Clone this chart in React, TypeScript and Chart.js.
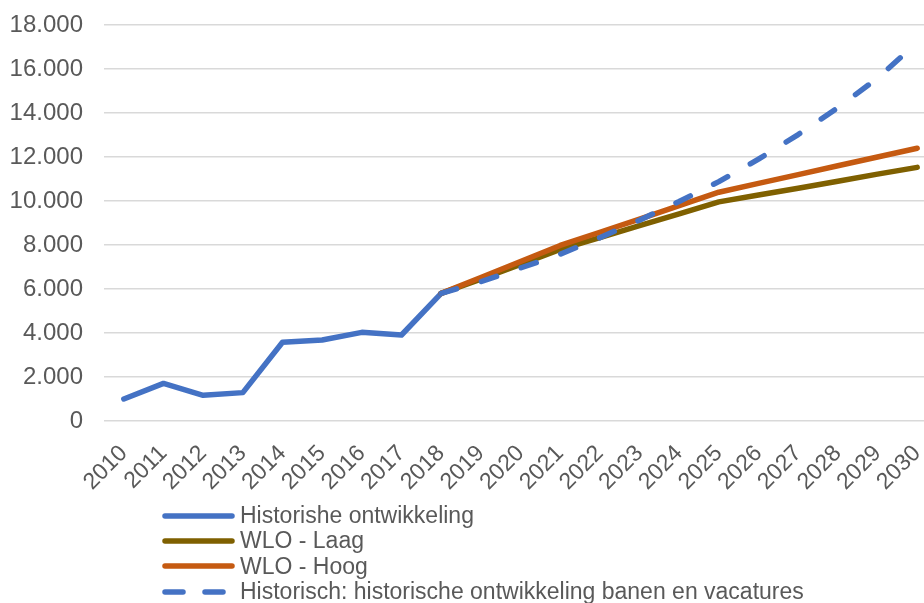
import React, { useEffect, useRef } from "react";
import { Chart, registerables } from "chart.js";

Chart.register(...registerables);

const years = [
  "2010", "2011", "2012", "2013", "2014", "2015", "2016", "2017", "2018", "2019",
  "2020", "2021", "2022", "2023", "2024", "2025", "2026", "2027", "2028", "2029", "2030",
];
const N = null;
const historisch = [1000, 1710, 1170, 1290, 3580, 3680, 4030, 3910, 5800, N, N, N, N, N, N, N, N, N, N, N, N];
const wloLaag = [N, N, N, N, N, N, N, N, 5800, 6450, 7120, 7800, 8340, 8880, 9420, 9960, 10270, 10580, 10900, 11220, 11530];
const wloHoog = [N, N, N, N, N, N, N, N, 5800, 6520, 7250, 7980, 8580, 9180, 9790, 10400, 10800, 11200, 11600, 12000, 12400];
const trend = [N, N, N, N, N, N, N, N, 5800, 6330, 6955, 7580, 8330, 9130, 9980, 10880, 11900, 13020, 14240, 15580, 17200];

const seriesNames = [
  "Historishe ontwikkeling",
  "WLO - Laag",
  "WLO - Hoog",
  "Historisch: historische ontwikkeling banen en vacatures",
];
const seriesColors = ["#4472C4", "#7F6000", "#C55A11", "#4472C4"];
const seriesDashed = [false, false, false, true];

const FONT = "'Liberation Sans', Arial, sans-serif";
const TEXT = "#595959";
const LW = 5.5;
const DASH = [16, 26];

function fmt(v: number) {
  return String(v).replace(/\B(?=(\d{3})+(?!\d))/g, ".");
}

export default function App() {
  const ref = useRef<HTMLCanvasElement | null>(null);
  useEffect(() => {
    const ctx = ref.current!;
    const data = [historisch, wloLaag, wloHoog, trend];
    const orders = [3, 2, 1, 0];
    const chart = new Chart(ctx, {
      type: "line",
      data: {
        labels: years,
        datasets: data.map((d, i) => ({
          label: seriesNames[i],
          data: d,
          borderColor: seriesColors[i],
          backgroundColor: seriesColors[i],
          borderWidth: LW,
          borderDash: seriesDashed[i] ? DASH : [],
          borderCapStyle: "round",
          borderJoinStyle: "round",
          pointRadius: 0,
          tension: 0,
          fill: false,
          spanGaps: false,
          order: orders[i],
        })),
      },
      options: {
        responsive: false,
        animation: false,
        devicePixelRatio: 1,
        layout: { padding: { left: 0, top: 25, right: 3, bottom: 100 } },
        plugins: { legend: { display: false }, tooltip: { enabled: false } },
        scales: {
          x: {
            offset: true,
            grid: { display: false, drawTicks: false },
            border: { display: false },
            ticks: {
              autoSkip: false,
              minRotation: 45,
              maxRotation: 45,
              color: TEXT,
              padding: 19,
              font: { family: FONT, size: 23 },
            },
            afterFit: (s: any) => {
              s.height = 82;
              s.paddingLeft = 0;
              s.paddingRight = 0;
              s.paddingTop = 0;
              s.paddingBottom = 0;
            },
          },
          y: {
            min: 0,
            max: 18000,
            border: { display: false },
            grid: { color: "#D9D9D9", lineWidth: 1.5, drawTicks: false },
            ticks: {
              stepSize: 2000,
              padding: 21,
              color: TEXT,
              font: { family: FONT, size: 24 },
              callback: (v: any) => fmt(Number(v)),
            },
            afterFit: (s: any) => {
              s.width = 104;
              s.paddingTop = 0;
              s.paddingBottom = 0;
              s.paddingLeft = 0;
              s.paddingRight = 0;
            },
          },
        },
      },
    } as any);
    return () => chart.destroy();
  }, []);

  return (
    <div
      style={{
        position: "fixed",
        left: 0,
        top: 0,
        width: 924,
        height: 603,
        overflow: "hidden",
        background: "#fff",
      }}
    >
      <canvas ref={ref} width={940} height={603} style={{ position: "absolute", left: 0, top: 0 }} />
      <div style={{ position: "absolute", left: 160, top: 503, fontFamily: FONT, fontSize: 23, color: TEXT }}>
        {seriesNames.map((name, i) => (
          <div key={name} style={{ display: "flex", alignItems: "center", height: 25.3, whiteSpace: "nowrap" }}>
            <svg width={78} height={12} style={{ flex: "none" }}>
              <line
                x1={5}
                y1={6}
                x2={72}
                y2={6}
                stroke={seriesColors[i]}
                strokeWidth={LW}
                strokeLinecap="round"
                strokeDasharray={seriesDashed[i] ? "18 22" : undefined}
              />
            </svg>
            <span style={{ marginLeft: 2 }}>{name}</span>
          </div>
        ))}
      </div>
    </div>
  );
}
